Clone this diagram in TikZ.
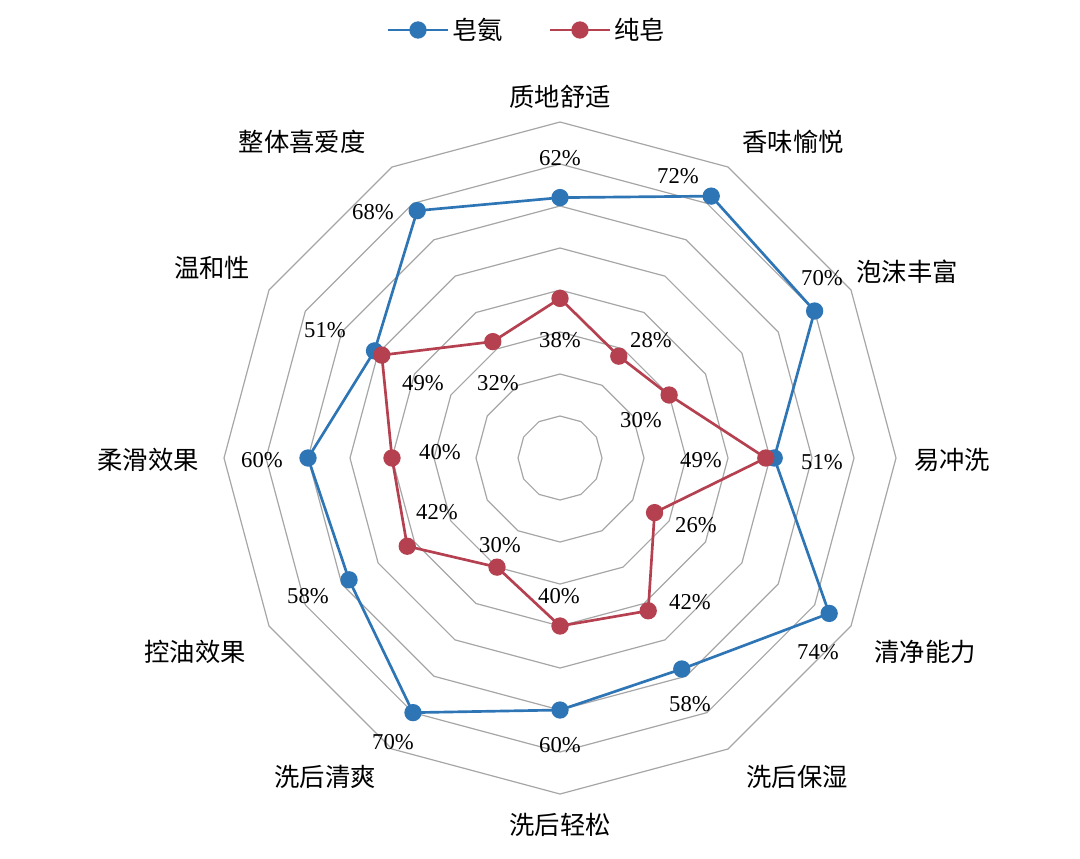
\documentclass[tikz,border=0pt]{standalone}
\usepackage{fontspec}
\setmainfont{Liberation Serif}
\newfontfamily\cjk{Noto Sans CJK SC}
\definecolor{seriesblue}{HTML}{2E75B6}
\definecolor{seriesred}{HTML}{B5404F}
\begin{document}
\begin{tikzpicture}[x=0.75pt,y=-0.75pt,
	gridstyle/.style={draw=gray!70, line width=0.9pt},
	blueline/.style={draw=seriesblue, line width=2pt},
	redline/.style={draw=seriesred, line width=2pt},
	bluedot/.style={circle, fill=seriesblue, inner sep=0pt, minimum size=13pt},
	reddot/.style={circle, fill=seriesred, inner sep=0pt, minimum size=13pt},
	catstyle/.style={font=\cjk\fontsize{19}{19}\selectfont, inner sep=0pt},
	valstyle/.style={font=\fontsize{17}{17}\selectfont, inner sep=0pt}]
	\useasboundingbox (0,0) rectangle (1080,858);
	\def \n {12}
	\def \k {4.2}

	% grid
	\begin{scope}[shift={(560,458)}]
	\foreach \r in {10,20,...,80} {
		\draw[gridstyle] (-90:\r*\k) \foreach \i in {1,...,11} { -- ({-90+30*\i}:\r*\k) } -- cycle;
	};
	% series points
	\foreach \b/\rr [count=\s] in {62/38, 72/28, 70/30, 51/49, 74/26, 58/42, 60/40, 70/30, 58/42, 60/40, 51/49, 68/32} {
		\coordinate (b\s) at ({-90+30*(\s-1)}:\b*\k);
		\coordinate (r\s) at ({-90+30*(\s-1)}:\rr*\k);
	};
	\end{scope}
	\draw[redline] (r1) \foreach \i in {2,...,12} { -- (r\i) } -- cycle;
	\draw[blueline] (b1) \foreach \i in {2,...,12} { -- (b\i) } -- cycle;
	\foreach \i in {1,...,12} {
		\node[bluedot] at (b\i) {};
		\node[reddot] at (r\i) {};
	};

	% categories
	\foreach \t/\x/\y [count=\s] in {质地舒适/560/97, 香味愉悦/793/142, 泡沫丰富/907/272, 易冲洗/952/460, 清净能力/925/652, 洗后保湿/797/777, 洗后轻松/560/825, 洗后清爽/325/777, 控油效果/195/652, 柔滑效果/148/460, 温和性/212/268, 整体喜爱度/302/142} {
		\node(c\s) [catstyle] at (\x,\y) {\t};
	};
	% values
	\foreach \t/\x/\y [count=\s] in {62/560/158, 72/678/176, 70/822/278, 51/822/462, 74/818/652, 58/690/704, 60/560/745, 70/393/742, 58/308/596, 60/262/460, 51/325/330, 68/373/212} {
		\node(vb\s) [valstyle] at (\x,\y) {\t\%};
	};
	\foreach \t/\x/\y [count=\s] in {38/560/340, 28/651/340, 30/641/420, 49/701/460, 26/696/525, 42/690/602, 40/559/596, 30/500/545, 42/437/512, 40/440/452, 49/423/383, 32/498/383} {
		\node(vr\s) [valstyle] at (\x,\y) {\t\%};
	};

	% legend
	\coordinate (lb1) at (388,30); \coordinate (lb2) at (448,30);
	\coordinate (lr1) at (550,30); \coordinate (lr2) at (610,30);
	\draw[blueline] (lb1) -- (lb2);
	\node[bluedot] (lbd) at (418,30) {};
	\node[catstyle, right=0pt] (lbt) at (452,30) {皂氨};
	\draw[redline] (lr1) -- (lr2);
	\node[reddot] (lrd) at (580,30) {};
	\node[catstyle, right=0pt] (lrt) at (614,30) {纯皂};
\end{tikzpicture}
\end{document}
